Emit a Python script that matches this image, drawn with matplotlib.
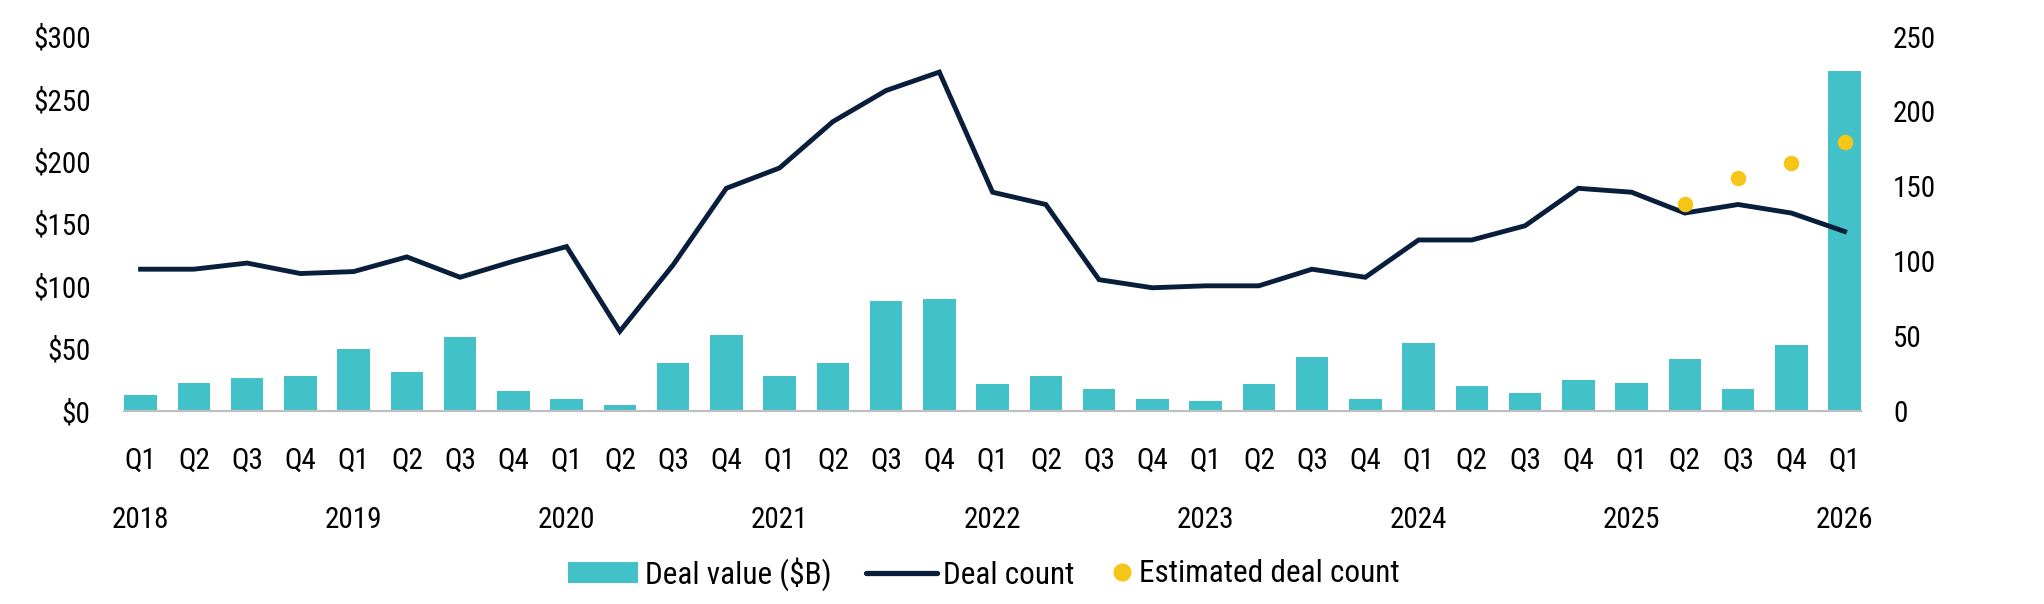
import matplotlib
matplotlib.use("Agg")
import matplotlib.pyplot as plt
import matplotlib.transforms as mtransforms
from matplotlib.patches import Patch
from matplotlib.lines import Line2D
from matplotlib import font_manager

years = ["2018", "2019", "2020", "2021", "2022", "2023", "2024", "2025", "2026"]
quarters = (["Q1", "Q2", "Q3", "Q4"] * 8) + ["Q1"]

deal_value = [13.0, 22.8, 26.5, 28.1,
              49.7, 31.5, 59.6, 16.4,
              9.6, 4.6, 38.3, 61.1,
              28.1, 38.3, 88.0, 89.5,
              21.3, 28.1, 17.9, 9.6,
              7.7, 21.3, 42.9, 9.6,
              54.6, 19.8, 14.8, 24.7,
              22.8, 41.4, 17.9, 53.1,
              272.2]

deal_count = [94.7, 94.7, 98.8, 91.8,
              93.1, 102.9, 89.3, 100.0,
              109.8, 53.2, 97.5, 148.7,
              162.3, 193.2, 214.0, 226.3,
              146.1, 137.9, 87.7, 82.3,
              83.6, 83.6, 94.7, 89.3,
              114.2, 114.2, 123.7, 148.7,
              146.1, 132.2, 137.9, 132.2,
              119.9]

est_idx = [29, 30, 31, 32]
est_count = [137.9, 155.9, 165.6, 179.5]

left_ticks = [0, 50, 100, 150, 200, 250, 300]
left_labels = ["$0", "$50", "$100", "$150", "$200", "$250", "$300"]
right_ticks = [0, 50, 100, 150, 200, 250]

TEAL = "#42C1C8"
NAVY = "#081E3B"
YELLOW = "#F5C518"

avail = {f.name for f in font_manager.fontManager.ttflist}
fam = "DejaVu Sans"
for cand in ["Roboto Condensed", "Fira Sans Condensed", "Pragati Narrow", "Liberation Sans Narrow"]:
    if cand in avail:
        fam = cand
        break
plt.rcParams["font.family"] = [fam, "DejaVu Sans"]
FS = 21
LFS = 22.5

W, H = 2044, 604
fig = plt.figure(figsize=(W / 100, H / 100), dpi=100)
ax = fig.add_axes([0.0607, 0.3195, 0.8498, 0.6199])
ax2 = ax.twinx()

x = list(range(len(deal_value)))
ax.bar(x, deal_value, width=0.61, color=TEAL, zorder=2)
ax.set_ylim(0, 300)
ax.set_xlim(-0.31, len(x) - 1 + 0.31)
ax.set_yticks(left_ticks)
ax.set_yticklabels(left_labels)
ax.set_xticks(x)
ax.set_xticklabels(quarters)

ax2.plot(x, deal_count, color=NAVY, lw=3.5, zorder=3, solid_joinstyle="miter")
ax2.scatter(est_idx, est_count, s=125, color=YELLOW, zorder=4, linewidths=0)
ax2.set_ylim(0, 250)
ax2.set_yticks(right_ticks)
ax2.set_yticklabels([str(t) for t in right_ticks])

for a in (ax, ax2):
    for s in a.spines.values():
        s.set_visible(False)
    a.tick_params(length=0, labelsize=FS)
ax.tick_params(axis="y", pad=24)
ax.tick_params(axis="x", pad=26)
ax2.tick_params(axis="y", pad=23)
ax.spines["bottom"].set_visible(True)
ax.spines["bottom"].set_color("#BFBFBF")
ax.spines["bottom"].set_linewidth(1.6)

trans = mtransforms.blended_transform_factory(ax.transData, fig.transFigure)
for i, yr in enumerate(years):
    ax.text(i * 4, 1 - 520 / H, yr, transform=trans, ha="center", va="center", fontsize=FS)

# Legend: two legends so the dot entry can have a short handle
ly = 1 - 574 / H
h1 = [Patch(facecolor=TEAL, edgecolor="none"),
      Line2D([0], [0], color=NAVY, lw=3.8, solid_capstyle="round")]
l1 = ["Deal value ($B)", "Deal count"]
h2 = [Line2D([0], [0], marker="o", color="none", markerfacecolor=YELLOW,
             markeredgecolor="none", markersize=13)]
l2 = ["Estimated deal count"]
leg1 = fig.legend(h1, l1, loc="center left", bbox_to_anchor=(0.2, ly), ncol=2,
                  frameon=False, fontsize=LFS, handlelength=2.25, handleheight=0.65,
                  handletextpad=0.22, columnspacing=1.1, borderpad=0, borderaxespad=0)
leg2 = fig.legend(h2, l2, loc="center left", bbox_to_anchor=(0.6, ly),
                  frameon=False, fontsize=LFS, handlelength=0.6, handleheight=0.65,
                  handletextpad=0.25, borderpad=0, borderaxespad=0)
fig.canvas.draw()
r = fig.canvas.get_renderer()
w1 = leg1.get_window_extent(r).width
w2 = leg2.get_window_extent(r).width
gap = 38
center = 984
start = center - (w1 + gap + w2) / 2
leg1.set_bbox_to_anchor((start / W, ly), transform=fig.transFigure)
leg2.set_bbox_to_anchor(((start + w1 + gap) / W, ly), transform=fig.transFigure)

fig.savefig("out.png", dpi=100)
